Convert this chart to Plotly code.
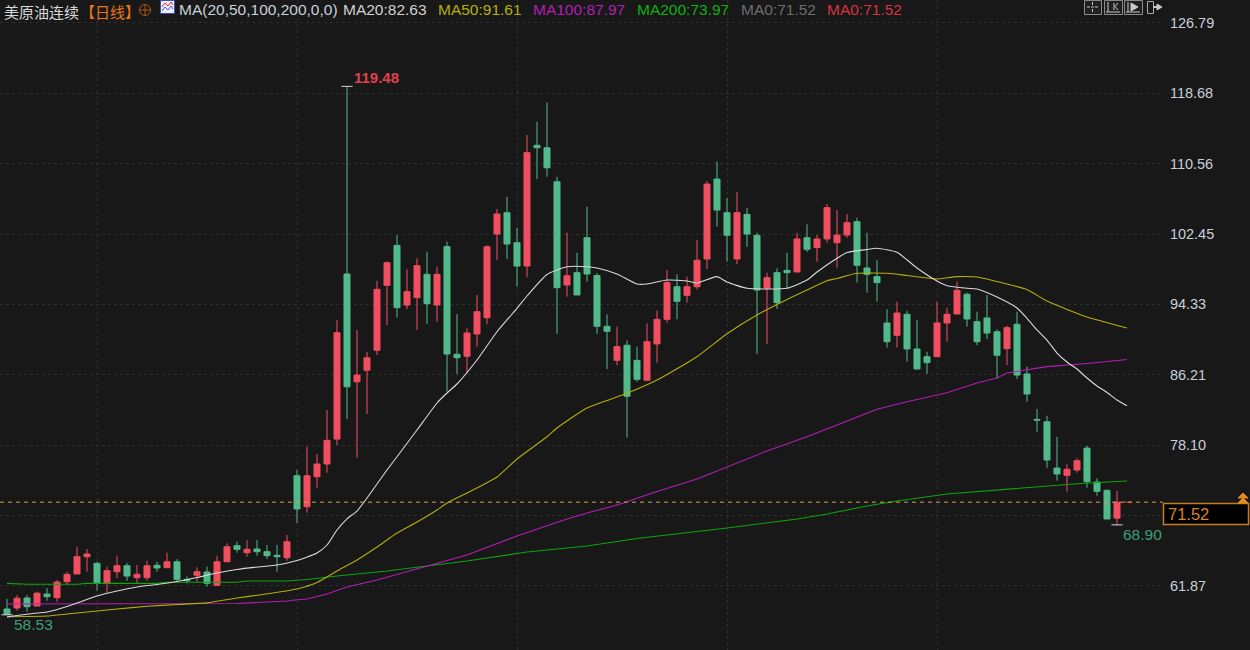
import plotly.graph_objects as go

# Daily candles for the crude oil continuous contract
candle_index = list(range(112))
highs = [60.36, 60.82, 60.82, 61.20, 61.62, 62.54, 63.50, 66.38, 66.12, 64.65,
         64.08, 65.35, 64.50, 64.27, 64.77, 64.65, 65.69, 64.96, 62.96, 64.01,
         64.08, 65.35, 66.77, 66.96, 67.15, 67.15, 66.58, 66.58, 67.73, 75.23,
         77.92, 77.08, 82.15, 92.53, 119.48, 91.38, 88.87, 97.07, 99.26, 102.33,
         98.38, 99.65, 100.41, 98.68, 101.57, 93.22, 91.58, 95.42, 101.14, 105.33,
         106.75, 103.18, 113.87, 115.40, 117.60, 109.05, 102.60, 100.29, 105.60, 97.95,
         93.19, 91.76, 90.19, 89.46, 92.15, 93.61, 98.30, 97.80, 97.53, 101.76,
         108.56, 110.79, 106.63, 107.33, 105.48, 102.60, 97.99, 98.49, 100.29, 102.60,
         103.57, 102.33, 105.91, 105.22, 104.76, 104.33, 102.60, 99.45, 93.77, 94.64,
         93.61, 92.53, 88.87, 94.64, 93.95, 96.95, 95.68, 93.49, 95.42, 91.46,
         91.88, 93.49, 87.15, 82.26, 81.49, 79.07, 75.89, 76.58, 78.03, 74.27,
         73.00, 72.81]
lows = [58.53, 59.01, 58.89, 59.55, 60.16, 60.04, 62.08, 63.24, 63.50, 61.31,
        61.08, 62.77, 62.46, 62.20, 62.46, 63.50, 63.96, 62.35, 62.16, 62.35,
        61.77, 61.93, 64.65, 65.69, 65.23, 65.35, 64.96, 63.50, 64.77, 69.12,
        70.31, 73.19, 74.92, 78.11, 81.10, 76.65, 81.69, 88.50, 91.96, 92.80,
        93.80, 91.38, 92.07, 92.34, 84.26, 86.30, 86.38, 89.46, 92.07, 99.45,
        99.57, 96.37, 97.46, 108.79, 109.05, 90.92, 95.22, 95.40, 96.95, 90.92,
        86.88, 87.31, 78.96, 85.41, 85.58, 87.61, 92.23, 92.61, 94.53, 96.07,
        98.41, 103.29, 99.26, 98.99, 100.98, 88.61, 89.74, 93.80, 96.19, 98.07,
        100.38, 99.26, 101.45, 98.57, 102.02, 96.84, 95.68, 94.64, 89.34, 89.34,
        87.73, 86.88, 86.30, 88.30, 90.03, 93.22, 91.76, 89.62, 90.34, 85.81,
        87.35, 85.73, 83.10, 79.64, 75.49, 74.00, 72.73, 74.92, 73.19, 72.26,
        69.58, 68.90]
opens = [59.20, 59.32, 60.47, 59.55, 60.93, 60.51, 62.35, 63.24, 65.23, 64.47,
         62.16, 63.50, 64.19, 62.81, 62.81, 64.24, 63.96, 64.65, 62.62, 63.09,
         63.47, 61.93, 64.65, 66.50, 65.69, 66.12, 65.81, 65.39, 65.12, 74.57,
         71.00, 74.46, 75.92, 78.80, 97.84, 85.41, 86.73, 89.04, 96.53, 101.14,
         94.26, 95.11, 97.80, 94.26, 101.00, 88.58, 88.35, 90.92, 92.80, 102.45,
         104.91, 101.45, 98.76, 112.68, 112.40, 108.48, 96.57, 97.99, 102.02, 97.66,
         91.80, 87.88, 89.62, 87.88, 85.58, 89.77, 92.61, 96.37, 95.38, 96.37,
         99.57, 108.79, 104.91, 99.57, 104.72, 102.30, 96.19, 97.99, 98.26, 98.07,
         102.02, 100.88, 101.88, 101.45, 102.33, 103.87, 98.53, 97.53, 92.19, 90.77,
         93.19, 89.19, 88.30, 88.30, 92.19, 93.22, 95.50, 92.34, 92.77, 91.18,
         89.23, 92.04, 86.31, 81.07, 80.80, 75.46, 74.62, 75.23, 77.76, 73.85,
         72.88, 69.68]
closes = [58.60, 60.44, 59.47, 61.02, 60.62, 62.31, 63.20, 65.23, 65.54, 62.23,
          63.62, 64.19, 63.00, 63.20, 64.19, 63.93, 64.65, 62.62, 62.46, 63.50,
          62.16, 64.65, 66.38, 66.08, 66.08, 65.81, 65.35, 65.23, 66.96, 70.73,
          74.57, 75.92, 78.65, 91.06, 84.83, 86.18, 88.18, 96.07, 99.14, 93.95,
          95.80, 98.80, 94.41, 97.80, 88.61, 88.18, 91.03, 93.49, 100.98, 104.76,
          101.30, 98.76, 111.83, 112.40, 110.09, 96.26, 97.64, 95.42, 97.84, 91.80,
          91.23, 89.46, 83.74, 85.69, 90.03, 92.61, 96.84, 94.69, 96.37, 99.42,
          108.21, 105.21, 102.30, 104.91, 102.45, 95.99, 97.41, 94.53, 97.99, 101.88,
          100.68, 101.88, 105.49, 102.33, 103.76, 98.84, 97.80, 96.84, 90.03, 93.34,
          89.19, 86.88, 87.61, 92.19, 93.19, 95.96, 92.65, 90.03, 91.03, 88.46,
          91.65, 86.18, 84.00, 80.99, 76.38, 74.77, 75.31, 76.30, 73.88, 72.77,
          69.58, 71.52]

# Moving averages, read at the points where the line visibly bends
ma20_x = [0, 1, 3, 4, 6, 7, 9, 11, 13, 15, 17, 19, 21, 23, 25, 27, 29, 31, 32, 33,
          34, 35, 36, 37, 38, 39, 41, 43, 44, 45, 47, 49, 51, 52, 54, 56, 58, 59, 61, 63,
          64, 66, 68, 69, 71, 72, 74, 78, 80, 81, 83, 84, 86, 87, 89, 91, 93, 94, 96, 97,
          99, 101, 102, 103, 104, 105, 106, 107, 108, 109, 110, 111, 112]
ma20_y = [58.28, 58.45, 58.74, 58.85, 59.49, 59.89, 60.70, 61.27, 61.74, 62.03,
          62.37, 62.83, 63.35, 63.76, 64.04, 64.27, 64.79, 65.66, 66.58, 68.31,
          69.60, 70.50, 72.00, 73.62, 75.23, 76.76, 79.84, 82.96, 84.11, 85.15,
          87.92, 91.18, 93.88, 95.30, 97.78, 98.68, 98.68, 98.53, 97.84, 96.68,
          96.68, 97.14, 97.03, 96.80, 97.53, 96.91, 96.19, 96.19, 97.14, 98.07,
          99.65, 100.32, 100.66, 100.80, 100.34, 98.53, 97.03, 96.49, 96.19, 96.11,
          95.18, 93.92, 92.73, 91.38, 90.22, 88.72, 87.69, 86.88, 85.84, 84.92,
          84.17, 83.30, 82.63]
ma50_x = [0, 4, 6, 9, 11, 14, 17, 20, 23, 25, 29, 31, 33, 35, 37, 39, 41, 43, 44, 46,
          48, 49, 51, 54, 55, 58, 62, 65, 69, 72, 75, 78, 80, 82, 83, 85, 88, 90, 92, 93,
          95, 97, 100, 102, 104, 108, 112]
ma50_y = [58.31, 58.39, 58.62, 58.97, 59.20, 59.51, 59.72, 59.91, 60.47, 60.78,
          61.51, 62.25, 63.58, 64.85, 66.35, 67.96, 69.23, 70.62, 71.42, 72.58,
          73.77, 74.42, 76.50, 79.07, 80.07, 82.38, 84.08, 85.61, 88.30, 90.95,
          93.11, 94.90, 95.99, 97.06, 97.32, 97.92, 97.92, 97.66, 97.38, 97.26,
          97.53, 97.49, 96.68, 96.05, 94.72, 92.88, 91.61]
ma100_x = [0, 6, 7, 14, 23, 26, 28, 29, 30, 32, 34, 37, 42, 46, 51, 56, 58, 61, 65, 69,
           76, 80, 83, 87, 90, 94, 97, 99, 100, 102, 104, 108, 112]
ma100_y = [59.77, 59.77, 59.83, 59.85, 59.83, 60.00, 60.12, 60.27, 60.35, 60.93,
           61.74, 62.54, 64.16, 65.43, 67.62, 69.58, 70.27, 71.19, 72.75, 74.19,
           77.42, 79.07, 80.42, 82.23, 83.11, 84.15, 85.27, 85.84, 86.42, 86.76,
           87.15, 87.51, 87.97]
ma200_x = [0, 2, 7, 8, 15, 16, 23, 24, 28, 30, 33, 38, 42, 46, 52, 58, 63, 69, 72, 79,
           82, 86, 89, 94, 100, 101, 102, 105, 107, 110, 112]
ma200_y = [62.16, 62.05, 62.05, 62.16, 62.16, 62.28, 62.28, 62.43, 62.43, 62.60,
           63.00, 63.58, 64.16, 64.73, 65.77, 66.46, 67.33, 68.08, 68.54, 69.58,
           70.15, 71.08, 71.66, 72.46, 73.04, 73.07, 73.23, 73.50, 73.65, 73.85, 73.97]
ma0_x = [111.6, 112.5]
ma0_y = [71.52, 71.52]

y_ticks = [126.79, 118.68, 110.56, 102.45, 94.33, 86.21, 78.10, 69.98, 61.87]
y_tick_labels = ["126.79", "118.68", "110.56", "102.45", "94.33", "86.21", "78.10", "", "61.87"]
x_grid = [9, 29, 51, 72, 93]
last_price = 71.52

BG = "#181818"
RED = "#F04F60"
GREEN = "#52B98A"
GRID = "#2E2E2E"
WIDTH, HEIGHT = 1250, 650
PLOT_W = 1160
CJK = "Noto Sans CJK SC"
LATIN = "Liberation Sans"

fig = go.Figure()
fig.add_trace(go.Candlestick(
    x=candle_index, open=opens, high=highs, low=lows, close=closes,
    increasing=dict(line=dict(color=RED, width=1), fillcolor=RED),
    decreasing=dict(line=dict(color=GREEN, width=1), fillcolor=GREEN),
    whiskerwidth=0, hoverinfo="skip",
))
for xs, ys, colour, smooth in [(ma200_x, ma200_y, "#0FA30F", False),
                               (ma100_x, ma100_y, "#B41EB4", False),
                               (ma50_x, ma50_y, "#B5AE0A", True),
                               (ma20_x, ma20_y, "#D9D9D9", True),
                               (ma0_x, ma0_y, "#D9333F", False)]:
    line = dict(color=colour, width=1.1)
    if smooth:
        line.update(shape="spline", smoothing=0.5)
    fig.add_trace(go.Scatter(x=xs, y=ys, mode="lines", hoverinfo="skip", line=line))

# Small crosshair ticks at the extreme highs and lows
hi_i = highs.index(max(highs))
lo_i = len(lows) - 1
fig.add_trace(go.Scatter(
    x=[hi_i, lo_i, 0], y=[highs[hi_i], lows[lo_i], lows[0]], mode="markers", hoverinfo="skip",
    marker=dict(symbol="line-ew", size=8, line=dict(color="#D8D8D8", width=1)),
))

shapes = []
annotations = []


def px(x):
    return x / PLOT_W


def py(y):
    return 1 - y / HEIGHT


def rect(x0, y0, x1, y1, line, fill=None, width=1):
    shapes.append(dict(type="rect", xref="paper", yref="paper", layer="above",
                       x0=px(x0), x1=px(x1), y0=py(y0), y1=py(y1),
                       line=dict(color=line, width=width),
                       fillcolor=fill if fill else "rgba(0,0,0,0)"))


def seg(x0, y0, x1, y1, colour, width=1):
    shapes.append(dict(type="line", xref="paper", yref="paper", layer="above",
                       x0=px(x0), x1=px(x1), y0=py(y0), y1=py(y1),
                       line=dict(color=colour, width=width)))


def poly(points, colour, fill=None):
    d = " ".join(("M" if i == 0 else "L") + f" {px(x)} {py(y)}" for i, (x, y) in enumerate(points))
    shape = dict(type="path", xref="paper", yref="paper", layer="above",
                 path=d + (" Z" if fill else ""), line=dict(color=colour, width=1))
    if fill:
        shape["fillcolor"] = fill
    shapes.append(shape)


def text(x, y, s, colour, size=15.5, family=LATIN):
    annotations.append(dict(xref="paper", yref="paper", x=px(x), y=py(y), text=s,
                            showarrow=False, xanchor="left", yanchor="middle", borderpad=0,
                            font=dict(family=family, size=size, color=colour)))


# Title strip
text(3, 11, "美原油连续", "#D8D8D8", size=15, family=CJK)
text(79, 11, "【日线】", "#E8761A", size=15, family=CJK)
text(178, 9.5, "MA(20,50,100,200,0,0)", "#C8D0D8")
text(342, 9.5, "MA20:82.63", "#D0D0D0")
text(437, 9.5, "MA50:91.61", "#B5AE0A")
text(532, 9.5, "MA100:87.97", "#B41EB4")
text(636, 9.5, "MA200:73.97", "#10B010")
text(740, 9.5, "MA0:71.52", "#6E6E6E")
text(826, 9.5, "MA0:71.52", "#D9333F")

# Target glyph beside the period tag
shapes.append(dict(type="circle", xref="paper", yref="paper", layer="above",
                   x0=px(139.5), x1=px(150.5), y0=py(4.5), y1=py(15.5),
                   line=dict(color="#B0561A", width=1)))
seg(139, 10, 151, 10, "#B0561A")
seg(145, 4, 145, 16, "#B0561A")

# Indicator thumbnail
rect(160.5, 0.5, 174.5, 13.5, "#3A4FB0", "#ECECF8")
poly([(162, 7), (165, 3), (168, 6), (171, 2), (173, 5)], "#E03030")
poly([(162, 11), (165, 7), (168, 10), (171, 6), (173, 9)], "#4060D0")

# Toolbar buttons at the top right
for left, right in ((1084, 1101), (1104, 1122), (1124, 1142)):
    rect(left + 0.5, 0.5, right + 0.5, 14.5, "#8A8A8A", "#202020")
for a, b in ((1087, 1090), (1091, 1094)):
    seg(a, 7, b, 7, "#C8C8C8")
seg(1095, 7, 1098, 7, "#C8C8C8")
seg(1092.5, 2, 1092.5, 5, "#C8C8C8")
seg(1092.5, 9, 1092.5, 12, "#C8C8C8")
seg(1108, 2, 1108, 12, "#C8C8C8")
seg(1106, 12, 1120, 12, "#C8C8C8")
seg(1114, 3, 1114, 10, "#C8C8C8")
poly([(1118, 3), (1115, 6.5), (1118, 10)], "#C8C8C8")
seg(1128, 2, 1128, 12, "#C8C8C8")
seg(1126, 12, 1140, 12, "#C8C8C8")
poly([(1131, 3), (1138, 7), (1131, 11)], "#C8C8C8", fill="#C8C8C8")
rect(1147.5, 1.5, 1153.5, 13.5, "#A8A8A8")
seg(1153, 7, 1159, 7, "#C8C8C8", 2)
poly([(1157, 4), (1162, 7), (1157, 10)], "#C8C8C8", fill="#C8C8C8")

# Last-price line and readout box
shapes.append(dict(type="line", xref="paper", yref="y", layer="above",
                   x0=0, x1=px(1163), y0=last_price, y1=last_price,
                   line=dict(color="#DFA050", width=1, dash="4px,4px")))
rect(1163.5, 503.5, 1248.5, 524.5, "#C87C20", "#000000", 1.5)
text(1167, 514, f"{last_price:.2f}", "#D9851E", size=16.5)
for top in (493, 498):
    poly([(1238, top + 5), (1243, top), (1248, top + 5)], "#E08A20", fill="#E08A20")

# High and low call-outs tied to the candles
annotations.append(dict(x=hi_i, y=highs[hi_i], xref="x", yref="y", text=f"{highs[hi_i]:.2f}",
                        showarrow=False, xanchor="left", yanchor="middle", xshift=6, yshift=9,
                        borderpad=0,
                        font=dict(family=LATIN, size=15, color="#E0404F", weight="bold")))
annotations.append(dict(x=lo_i, y=lows[lo_i], xref="x", yref="y", text=f"{lows[lo_i]:.2f}",
                        showarrow=False, xanchor="left", yanchor="middle", xshift=5, yshift=-10,
                        borderpad=0,
                        font=dict(family=LATIN, size=15.5, color="#3F9E7A")))
annotations.append(dict(x=0, y=lows[0], xref="x", yref="y", text=f"{lows[0]:.2f}",
                        showarrow=False, xanchor="left", yanchor="middle", xshift=6, yshift=-10,
                        borderpad=0,
                        font=dict(family=LATIN, size=15.5, color="#3F9E7A")))

fig.update_layout(
    width=WIDTH, height=HEIGHT, autosize=False,
    margin=dict(l=0, r=WIDTH - PLOT_W, t=0, b=0),
    paper_bgcolor=BG, plot_bgcolor=BG, showlegend=False, boxgap=0.14,
    shapes=shapes, annotations=annotations,
    xaxis=dict(range=[-0.7, 115.3], rangeslider=dict(visible=False), type="linear",
               tickvals=x_grid, showticklabels=False, ticks="", zeroline=False,
               showgrid=True, gridcolor=GRID, griddash="dot", gridwidth=1),
    yaxis=dict(range=[54.47, 129.44], side="right", tickvals=y_ticks, ticktext=y_tick_labels,
               ticks="outside", ticklen=6, tickcolor=BG, zeroline=False,
               tickfont=dict(family=LATIN, size=14.5, color="#C8D0D8"),
               showgrid=True, gridcolor=GRID, griddash="dot", gridwidth=1),
)

fig.write_html("out.html", config=dict(displayModeBar=False))
